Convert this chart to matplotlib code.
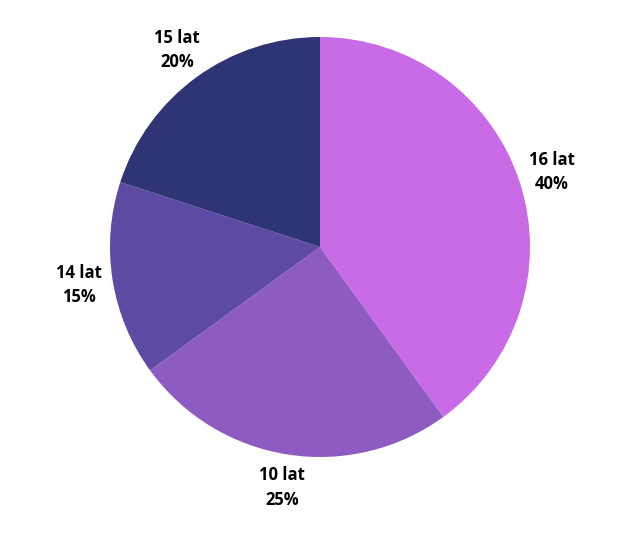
import matplotlib.pyplot as plt

labels = ['16 lat', '10 lat', '14 lat', '15 lat']
values = [40, 25, 15, 20]
colors = ['#c96be6', '#8e5bc3', '#5d4aa2', '#2e3474']

fig = plt.figure(figsize=(6.4, 5.33), dpi=100)
ax = fig.add_axes([110 / 640, 76 / 533, 420 / 640, 420 / 533])

texts = [f'{l}\n{v}%' for l, v in zip(labels, values)]
wedges, txt = ax.pie(values, labels=texts, colors=colors, startangle=90,
                     counterclock=False, labeldistance=1.16,
                     textprops={'fontsize': 12, 'fontweight': 'bold',
                                'family': ['Open Sans', 'DejaVu Sans'],
                                'ha': 'center', 'va': 'center',
                                'linespacing': 1.45})
for t in txt:
    t.set_horizontalalignment('center')
ax.set_xlim(-1, 1)
ax.set_ylim(-1, 1)
ax.set_aspect('equal')
ax.axis('off')

fig.savefig('out.png', dpi=100)
